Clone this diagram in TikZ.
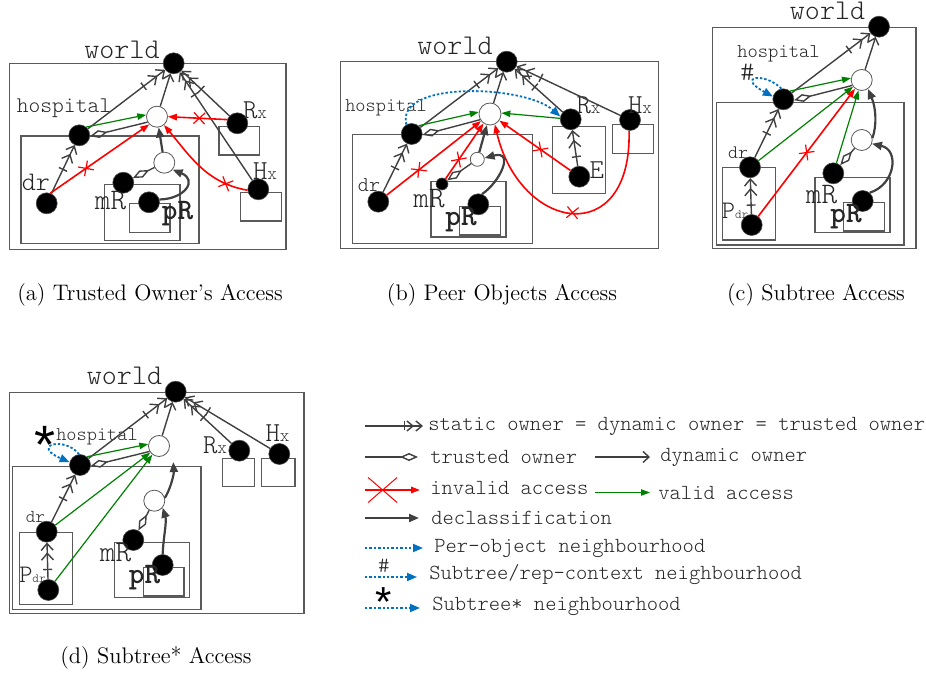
\documentclass[tikz,border=0pt]{standalone}
\usepackage{fontspec}
\newfontfamily\starfont{Liberation Sans}
\usetikzlibrary{arrows.meta,shapes.misc}
\definecolor{dk}{HTML}{404040}
\definecolor{vg}{HTML}{008000}
\definecolor{nb}{HTML}{0070C0}
\definecolor{bx}{HTML}{5A5A5A}
\newcommand\monoat[1]{\ttfamily\fontseries{l}\fontsize{#1}{#1}\selectfont}
\begin{document}
\begin{tikzpicture}[x=0.5pt,y=0.5pt,
  bn/.style={circle, fill=black, draw=black!70, line width=0.3pt, inner sep=0pt, minimum size=10.5pt},
  wn/.style={circle, fill=white, draw=black!65, line width=0.4pt, inner sep=0pt, minimum size=10.5pt},
  box/.style={draw=bx, line width=0.55pt},
  lb/.style={inner sep=0pt, text=black!85},
  static/.style={draw=dk, line width=0.7pt, -{Bar[width=4.5pt,sep=4pt]Straight Barb[length=3.4pt,width=6pt,sep=0.6pt]Straight Barb[length=3.4pt,width=6pt]}},
  staticL/.style={draw=dk, line width=0.7pt, -{Bar[width=4.5pt,sep=0.5pt]Straight Barb[length=3pt,width=5pt,sep=0.6pt]Straight Barb[length=3pt,width=5pt]}},
  dyn/.style={draw=dk, line width=0.7pt, -{Straight Barb[length=3pt,width=5.5pt]}},
  trusted/.style={draw=dk, line width=0.7pt, -{Diamond[open,length=9pt,width=4pt]}},
  declass/.style={draw=dk, line width=1.1pt, -{Triangle[length=5pt,width=4pt]}},
  valid/.style={draw=vg, line width=0.6pt, -{Triangle[length=4.5pt,width=3.2pt]}},
  invalid/.style={draw=red, line width=0.8pt, -{Triangle[length=4.5pt,width=3.2pt]}},
  xm/.style={cross out, draw=red, line width=0.6pt, sloped, minimum size=5pt, inner sep=0pt},
  nbh/.style={draw=nb, line width=0.9pt, dash pattern=on 1.2pt off 1pt, -{Triangle[length=5pt,width=4pt]}},
  captxt/.style={inner sep=0pt, font=\fontsize{11.25}{13}\selectfont}
]
\useasboundingbox (0,0) rectangle (926,-673);

% ================= (a)
\draw[box] (9.3,-63.3) rectangle (286,-249.3);
\draw[box] (21,-136) rectangle (199,-243.7);
\draw[box] (219,-126.7) rectangle (259.3,-155);
\draw[box] (240.7,-192.3) rectangle (281.7,-221);
\draw[box] (104.3,-184.3) rectangle (180,-240.3);
\draw[box] (129.3,-203.3) rectangle (170,-232.7);
\node[bn] (aW) at (173.7,-63.3) {};
\node[bn] (aH) at (79.3,-135.3) {};
\node[wn] (aO) at (157,-116.7) {};
\node[bn] (aR) at (237.3,-123.3) {};
\node[bn] (aX) at (258.3,-189.3) {};
\node[wn] (aQ) at (164.3,-162.7) {};
\node[bn] (aM) at (123.3,-182.7) {};
\node[bn] (aP) at (149,-202.3) {};
\node[bn] (aD) at (46.7,-203.3) {};
\node[lb,font=\monoat{14.3}] (aWl) at (122,-50) {world};
\node[lb,font=\monoat{11.2}] (aHl) at (64,-108.5) {hospital};
\node[lb] (aRl) at (255,-110.5) {\monoat{13.7}R\monoat{9.1}x};
\node[lb] (aXl) at (265,-171.5) {\monoat{13.7}H\monoat{9.1}x};
\node[lb,font=\monoat{14.9}] (aMl) at (110.5,-200.5) {mR};
\node[lb,font=\monoat{14.9}\bfseries] (aPl) at (177.5,-213.5) {pR};
\node[lb,font=\monoat{13.4}] (aDl) at (36,-182.5) {dr};
\draw[static] (aH) -- (aW);
\draw[static] (aD) -- (aH);
\draw[static] (aR) -- (aW);
\draw[static] (aX) -- (aW);
\draw[dyn] (aO) -- (aW);
\draw[trusted] (aO.210) -- (aH.-5);
\draw[valid] (aH.50) -- (aO.170);
\draw[invalid] (aD.70) -- node[xm,pos=0.36]{} (aO.225);
\draw[invalid] (aR.160) -- node[xm,pos=0.47]{} (aO.0);
\draw[invalid] (aX.185) to[out=170,in=-50] node[xm,pos=0.2]{} (aO.-50);
\draw[declass] (aQ) -- (aO);
\draw[trusted] (aQ) -- (aM);
\draw[declass] (aP.15) .. controls (185,-199) and (198,-180) .. (aQ.-40);

% ================= (b)
\draw[box] (340.7,-61.7) rectangle (658.3,-248.3);
\draw[box] (352.3,-134.3) rectangle (532.3,-243.3);
\draw[box] (552.7,-126.7) rectangle (605.3,-193.3);
\draw[box] (612.7,-124.3) rectangle (653.3,-153.3);
\draw[box] (431,-181.7) rectangle (506,-237);
\draw[box] (459.3,-206.7) rectangle (500.7,-235);
\node[bn] (bW) at (506.7,-61.7) {};
\node[bn] (bH) at (411.7,-134) {};
\node[wn,minimum size=11pt] (bO) at (490,-114) {};
\node[bn] (bR) at (570.7,-119.3) {};
\node[bn] (bE) at (579.3,-176.7) {};
\node[bn] (bX) at (630,-120) {};
\node[wn,minimum size=7pt] (bQ) at (477.3,-159.3) {};
\node[bn,minimum size=6pt] (bM) at (442,-184) {};
\node[bn] (bP) at (478.3,-204.3) {};
\node[bn] (bD) at (378.3,-201.7) {};
\node[lb,font=\monoat{14.3}] (bWl) at (455,-45.5) {world};
\node[lb,font=\monoat{9.7}] (bHl) at (386,-107.5) {hospital};
\node[lb] (bRl) at (588.5,-105.5) {\monoat{13.7}R\monoat{9.1}x};
\node[lb] (bXl) at (640,-105) {\monoat{13.7}H\monoat{9.1}x};
\node[lb,font=\monoat{13.7}] (bEl) at (596.7,-170) {E};
\node[lb,font=\monoat{14.9}] (bMl) at (429,-198.5) {mR};
\node[lb,font=\monoat{14.9}\bfseries] (bPl) at (461,-220) {pR};
\node[lb,font=\monoat{10.5}] (bDl) at (369,-185) {dr};
\draw[static] (bH) -- (bW);
\draw[static] (bD) -- (bH);
\draw[static] (bR) -- (bW);
\draw[static] (bX) -- (bW);
\draw[static] (bE) -- (bR);
\draw[dyn] (bO) -- (bW);
\draw[trusted] (bO.210) -- (bH.-5);
\draw[valid] (bH.50) -- (bO.170);
\draw[valid] (bR.175) -- (bO.5);
\draw[invalid] (bD) -- node[xm,pos=0.34]{} (bO);
\draw[invalid] (bM) -- node[xm,pos=0.35]{} (bO);
\draw[invalid] (bE) -- node[xm,pos=0.42]{} (bO);
\draw[invalid] (bX.-95) .. controls (632,-250) and (520,-232) .. node[xm,pos=0.5]{} (bO.-65);
\draw[declass] (bQ) -- (bO);
\draw[trusted] (bQ) -- (bM);
\draw[declass] (bP.70) .. controls (500,-182) and (515,-150) .. (bQ.10);
\draw[nbh] (bH.120) .. controls (395,-80) and (525,-85) .. (bR.165);

% ================= (c)
\draw[box] (712.7,-27.3) rectangle (916,-248.3);
\draw[box] (716.7,-102.3) rectangle (904,-245);
\draw[box] (722.7,-167.3) rectangle (775.3,-240);
\draw[box] (815,-177.3) rectangle (890,-232.7);
\draw[box] (843.3,-202.3) rectangle (884.3,-231);
\node[bn] (cW) at (879,-26.7) {};
\node[bn] (cH) at (783.3,-99.3) {};
\node[wn] (cO) at (861.7,-80) {};
\node[bn] (cD) at (750,-167.3) {};
\node[bn] (cF) at (751.7,-225) {};
\node[wn] (cQ) at (861.7,-140) {};
\node[bn] (cM) at (833.3,-173.3) {};
\node[bn] (cP) at (862.7,-201) {};
\node[lb,font=\monoat{14.3}] (cWl) at (827.5,-10.5) {world};
\node[lb,font=\monoat{9.8}] (cHl) at (778.5,-54) {hospital};
\node[lb,font=\monoat{13.5}] (cSh) at (747.5,-72.5) {\#};
\node[lb,font=\monoat{9.5}] (cDl) at (738,-152.5) {dr};
\node[lb] (cFl) at (735,-211) {\monoat{12.6}P\monoat{6.3}dr};
\node[lb,font=\monoat{14.9}] (cMl) at (821.5,-195) {mR};
\node[lb,font=\monoat{14.9}\bfseries] (cPl) at (846,-216.5) {pR};
\draw[static] (cH) -- (cW);
\draw[static] (cD) -- (cH);
\draw[static] (cF) -- (cD);
\draw[dyn] (cO) -- (cW);
\draw[trusted] (cO.210) -- (cH.-5);
\draw[valid] (cH.50) -- (cO.170);
\draw[valid] (cD) -- (cO);
\draw[valid] (cM) -- (cO);
\draw[invalid] (cF) -- node[xm,pos=0.5]{} (cO);
\draw[trusted] (cQ) -- (cM);
\draw[declass] (cQ.10) .. controls (877,-125) and (876,-108) .. (cO.-55);
\draw[declass] (cP.50) .. controls (895,-185) and (900,-150) .. (cQ.-20);
\draw[nbh] (cH.100) .. controls (765,-72) and (735,-76) .. (cH.165);

% ================= (d)
\draw[box] (9.3,-392.3) rectangle (304,-613.3);
\draw[box] (12.7,-466.7) rectangle (201,-609.3);
\draw[box] (222.7,-458.3) rectangle (254.3,-486.7);
\draw[box] (261.7,-458.3) rectangle (295,-486.7);
\draw[box] (19.3,-532.3) rectangle (72.7,-604.3);
\draw[box] (114.3,-542.3) rectangle (189.3,-597.7);
\draw[box] (143.3,-567.3) rectangle (184,-596);
\node[bn] (dW) at (175.7,-391.7) {};
\node[bn] (dH) at (80,-465) {};
\node[wn] (dO) at (159,-446) {};
\node[bn] (dR) at (239.3,-450.7) {};
\node[bn] (dX) at (279.3,-454) {};
\node[bn] (dD) at (46.7,-531.7) {};
\node[bn] (dF) at (48.3,-590) {};
\node[wn] (dQ) at (154.3,-500.7) {};
\node[bn] (dM) at (133.3,-540) {};
\node[bn] (dP) at (162.7,-565) {};
\coordinate (dT) at (173.3,-462);
\node[lb,font=\monoat{14.3}] (dWl) at (124.5,-376) {world};
\node[inner sep=0pt,font=\starfont\fontsize{27}{27}\selectfont] (dSt) at (45,-444.5) {*};
\node[lb,font=\monoat{9.7}] (dHl) at (97,-437) {hospital};
\node[lb] (dRl) at (215,-445.5) {\monoat{13.7}R\monoat{9.1}x};
\node[lb] (dXl) at (277.5,-433.5) {\monoat{13.7}H\monoat{9.1}x};
\node[lb,font=\monoat{9.1}] (dDl) at (35.5,-517) {dr};
\node[lb] (dFl) at (32.5,-575) {\monoat{12.6}P\monoat{6.3}dr};
\node[lb,font=\monoat{14.9}] (dMl) at (115.5,-552.5) {mR};
\node[lb,font=\monoat{14.9}\bfseries] (dPl) at (144.5,-577.5) {pR};
\draw[static] (dH) -- (dW);
\draw[static] (dD) -- (dH);
\draw[static] (dF) -- (dD);
\draw[static] (dR) -- (dW);
\draw[static] (dX) -- (dW);
\draw[dyn] (dO) -- (dW);
\draw[trusted] (dO.210) -- (dH.-5);
\draw[valid] (dH.50) -- (dO.170);
\draw[valid] (dD) -- (dO);
\draw[valid] (dF) -- (dO);
\draw[trusted] (dQ) -- (dM);
\draw[declass] (dQ.15) .. controls (170,-490) and (174,-475) .. (dT);
\draw[declass] (dP.north) .. controls (163,-540) and (167,-522) .. (dQ.-40);
\draw[nbh] (dH.95) .. controls (65,-436) and (30,-445) .. (dH.165);

% ================= legend
\coordinate (l1a) at (365,-426); \coordinate (l1b) at (423,-426);
\draw[staticL] (l1a) -- (l1b);
\node[lb,anchor=west,font=\monoat{10.75}] (t1) at (428,-426) {static owner = dynamic owner = trusted owner};
\coordinate (l2a) at (365,-457); \coordinate (l2b) at (418,-457);
\draw[trusted] (l2a) -- (l2b);
\node[lb,anchor=west,font=\monoat{10.75}] (t2) at (430,-457) {trusted owner};
\coordinate (l2c) at (595,-457); \coordinate (l2d) at (650,-457);
\draw[dyn] (l2c) -- (l2d);
\node[lb,anchor=west,font=\monoat{10.75}] (t2b) at (660,-457) {dynamic owner};
\coordinate (l3a) at (365,-490); \coordinate (l3b) at (420,-490);
\draw[invalid] (l3a) -- node[cross out, draw=red, line width=0.5pt, minimum width=14pt, minimum height=12pt, inner sep=0pt, pos=0.32]{} (l3b);
\node[lb,anchor=west,font=\monoat{10.75}] (t3) at (430,-488) {invalid access};
\coordinate (l3c) at (595,-492.5); \coordinate (l3d) at (650,-492.5);
\draw[valid] (l3c) -- (l3d);
\node[lb,anchor=west,font=\monoat{10.75}] (t3b) at (658,-492.5) {valid access};
\coordinate (l4a) at (365,-518); \coordinate (l4b) at (419,-518);
\draw[declass] (l4a) -- (l4b);
\node[lb,anchor=west,font=\monoat{10.75}] (t4) at (431,-518) {declassification};
\coordinate (l5a) at (365,-548); \coordinate (l5b) at (423,-548);
\draw[nbh] (l5a) -- (l5b);
\node[lb,anchor=west,font=\monoat{10.75}] (t5) at (434,-548) {Per-object neighbourhood};
\node[lb,font=\monoat{11}] (lSh) at (384,-566) {\#};
\coordinate (l6a) at (365,-577); \coordinate (l6b) at (417,-577);
\draw[nbh] (l6a) -- (l6b);
\node[lb,anchor=west,font=\monoat{10.75}] (t6) at (429,-575) {Subtree/rep-context neighbourhood};
\node[inner sep=0pt,font=\starfont\fontsize{21}{21}\selectfont] (lSt) at (384,-602.5) {*};
\coordinate (l7a) at (365,-608); \coordinate (l7b) at (420,-608);
\draw[nbh] (l7a) -- (l7b);
\node[lb,anchor=west,font=\monoat{10.75}] (t7) at (432,-606) {Subtree* neighbourhood};

% ================= captions
\node[captxt] (capa) at (150,-295) {(a) Trusted Owner's Access};
\node[captxt] (capb) at (502,-295) {(b) Peer Objects Access};
\node[captxt] (capc) at (816,-295) {(c) Subtree Access};
\node[captxt] (capd) at (156,-658) {(d) Subtree* Access};
\end{tikzpicture}
\end{document}
